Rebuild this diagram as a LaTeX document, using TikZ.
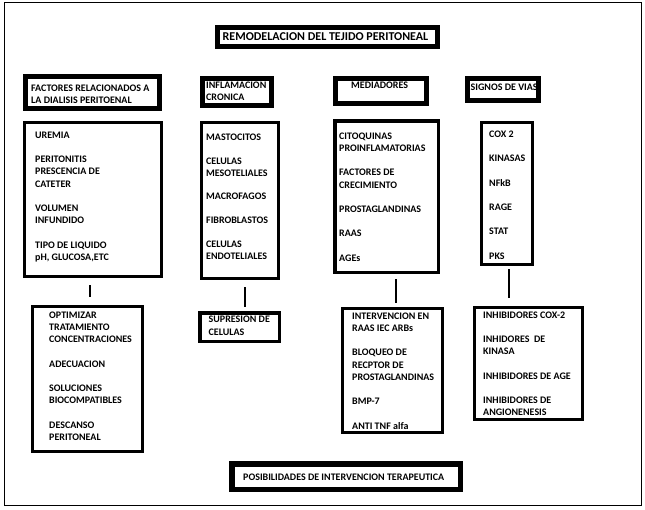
\documentclass[tikz,border=0pt]{standalone}
\usepackage{fontspec}
\setmainfont{Carlito}
\begin{document}
\begin{tikzpicture}[x=1pt,y=-1pt,
  hbox/.style={draw, line width=5pt, inner sep=0pt, outer sep=0pt},
  lbox/.style={draw, line width=3pt, inner sep=0pt, outer sep=0pt},
  txt/.style={anchor=north west, inner sep=0pt, align=left, font=\fontsize{10}{12.2}\selectfont\bfseries},
  conn/.style={line width=2pt}]
\useasboundingbox (0,0) rectangle (645,509);
% outer frame
\node[draw, line width=1.3pt, inner sep=0pt, minimum width=636.7pt, minimum height=502.7pt] (frame) at (323,254) {};
% title
\node[hbox, minimum width=220pt, minimum height=19pt] (title) at (327.5,37) {};
\node[inner sep=0pt, font=\fontsize{12}{14}\selectfont\bfseries] (titletxt) at (325.5,37) {REMODELACION DEL TEJIDO PERITONEAL};
% headers
\node[hbox, minimum width=134pt, minimum height=32pt] (h1) at (92.5,92.5) {};
\node[txt] (h1t) at (31,84.6) {FACTORES RELACIONADOS A\\LA DIALISIS PERITOENAL};
\node[hbox, minimum width=69pt, minimum height=27pt] (h2) at (237,92) {};
\node[txt] (h2t) at (206,81.6) {INFLAMACION\\CRONICA};
\node[hbox, minimum width=91pt, minimum height=25pt] (h3) at (381,91) {};
\node[txt] (h3t) at (351,81.6) {MEDIADORES};
\node[hbox, minimum width=71pt, minimum height=22pt] (h4) at (503,89.5) {};
\node[txt] (h4t) at (470.5,83.6) {SIGNOS DE VIAS};
% lists
\node[lbox, minimum width=137pt, minimum height=154pt] (l1) at (93,199.5) {};
\node[txt] (l1t) at (35,131.6) {UREMIA\\[12.2pt]PERITONITIS\\PRESCENCIA DE\\CATETER\\[12.2pt]VOLUMEN\\INFUNDIDO\\[12.2pt]TIPO DE LIQUIDO\\pH, GLUCOSA,ETC};
\node[lbox, minimum width=77pt, minimum height=156pt] (l2) at (240,200.5) {};
\node[txt, font=\fontsize{10}{11.9}\selectfont\bfseries] (l2t) at (206,133.6) {MASTOCITOS\\[11.9pt]CELULAS\\MESOTELIALES\\[11.9pt]MACROFAGOS\\[11.9pt]FIBROBLASTOS\\[11.9pt]CELULAS\\ENDOTELIALES};
\node[draw, line width=3.5pt, inner sep=0pt, minimum width=103.5pt, minimum height=151.5pt] (l3) at (386.5,196.5) {};
\node[txt] (l3t) at (339,132.6) {CITOQUINAS\\PROINFLAMATORIAS\\[12.2pt]FACTORES DE\\CRECIMIENTO\\[12.2pt]PROSTAGLANDINAS\\[12.2pt]RAAS\\[12.2pt]AGEs};
\node[lbox, minimum width=51pt, minimum height=142pt] (l4) at (507,193.5) {};
\node[txt] (l4t) at (489,130.6) {COX 2\\[12.2pt]KINASAS\\[12.2pt]NFkB\\[12.2pt]RAGE\\[12.2pt]STAT\\[12.2pt]PKS};
% connectors
\coordinate (c1a) at (90,285); \coordinate (c1b) at (90,297);
\coordinate (c2a) at (245,287); \coordinate (c2b) at (245,307);
\coordinate (c3a) at (396,279); \coordinate (c3b) at (396,303);
\coordinate (c4a) at (509,269); \coordinate (c4b) at (509,298);
\draw[conn] (c1a) -- (c1b);
\draw[conn] (c2a) -- (c2b);
\draw[conn] (c3a) -- (c3b);
\draw[conn] (c4a) -- (c4b);
% interventions
\node[lbox, minimum width=110pt, minimum height=145pt] (i1) at (87.5,379) {};
\node[txt] (i1t) at (49,311.6) {OPTIMIZAR\\TRATAMIENTO\\CONCENTRACIONES\\[12.2pt]ADECUACION\\[12.2pt]SOLUCIONES\\BIOCOMPATIBLES\\[12.2pt]DESCANSO\\PERITONEAL};
\node[draw, line width=3.5pt, inner sep=0pt, minimum width=79.5pt, minimum height=28.5pt] (i2) at (239.5,327) {};
\node[txt, font=\fontsize{10}{13.5}\selectfont\bfseries] (i2t) at (208.5,315.6) {SUPRESION DE\\CELULAS};
\node[lbox, minimum width=100pt, minimum height=124pt] (i3) at (392.5,370.5) {};
\node[txt] (i3t) at (352,312.6) {INTERVENCION EN\\RAAS IEC ARBs\\[12.2pt]BLOQUEO DE\\RECPTOR DE\\PROSTAGLANDINAS\\[12.2pt]BMP-7\\[12.2pt]ANTI TNF alfa};
\node[lbox, minimum width=108pt, minimum height=112pt] (i4) at (528.5,363.5) {};
\node[txt] (i4t) at (483,311.6) {INHIBIDORES COX-2\\[12.2pt]INHIDORES\ \ DE\\KINASA\\[12.2pt]INHIBIDORES DE AGE\\[12.2pt]INHIBIDORES DE\\ANGIONENESIS};
% bottom
\node[draw, line width=5.5pt, inner sep=0pt, minimum width=228.5pt, minimum height=25.5pt] (bot) at (346,476.5) {};
\node[inner sep=0pt, anchor=west, font=\fontsize{10}{12}\selectfont\bfseries] (bott) at (243,477) {POSIBILIDADES DE INTERVENCION TERAPEUTICA};
\end{tikzpicture}
\end{document}
